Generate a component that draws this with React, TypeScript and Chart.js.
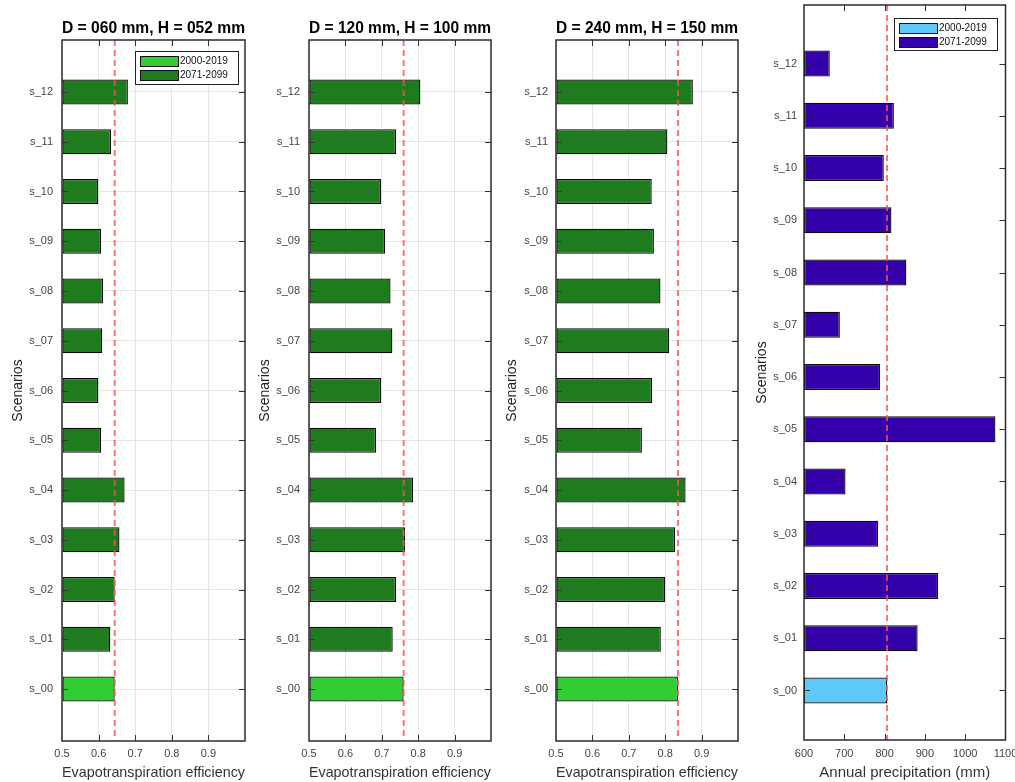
import React, { useEffect, useRef } from 'react';
import { Chart, registerables } from 'chart.js';

Chart.register(...registerables);
Chart.defaults.font.family = "'Liberation Sans', Arial, Helvetica, sans-serif";

// ---------- data ----------
const scenarios = ['s_00', 's_01', 's_02', 's_03', 's_04', 's_05', 's_06', 's_07', 's_08', 's_09', 's_10', 's_11', 's_12'];
const periodLabels = ['2000-2019', '2071-2099'];

const effD060 = [0.644, 0.632, 0.644, 0.657, 0.671, 0.607, 0.599, 0.610, 0.612, 0.607, 0.599, 0.634, 0.680];
const effD120 = [0.760, 0.730, 0.739, 0.764, 0.786, 0.684, 0.698, 0.729, 0.724, 0.709, 0.698, 0.739, 0.806];
const effD240 = [0.835, 0.788, 0.800, 0.827, 0.856, 0.736, 0.764, 0.811, 0.787, 0.769, 0.763, 0.806, 0.876];
const precipitation = [806, 882, 933, 784, 703, 1075, 789, 689, 854, 817, 798, 823, 664];

const effTicks = [0.5, 0.6, 0.7, 0.8, 0.9];
const precipTicks = [600, 700, 800, 900, 1000, 1100];

const panelTitles = ['D = 060 mm, H = 052 mm', 'D = 120 mm, H = 100 mm', 'D = 240 mm, H = 150 mm'];
const effAxisTitle = 'Evapotranspiration efficiency';
const precipAxisTitle = 'Annual precipitation (mm)';
const yAxisTitle = 'Scenarios';

const greenColors = ['#32cd32', '#1e7b1e'];
const blueColors = ['#5ec8fb', '#3300aa'];

// ---------- panel specs (layout / style only) ----------
type Spec = {
  left: number; width: number; title?: string; values: number[]; colors: string[];
  xMin: number; xMax: number; xTicks: number[]; xTitle: string; decimals: number;
  yMin: number; yMax: number; yWidth: number; padRight: number; padTop: number;
  xHeight: number; yTitlePad: number; tickPad: number; xTickPad: number; grid: boolean;
  legend?: { right: number; top: number; w: number; h: number };
};

const specs: Spec[] = [
  { left: 0, width: 250, title: panelTitles[0], values: effD060, colors: greenColors, xMin: 0.5, xMax: 1, xTicks: effTicks, xTitle: effAxisTitle, decimals: 1,
    yMin: -1.045, yMax: 13.045, yWidth: 62, padRight: 5, padTop: 0, xHeight: 41, yTitlePad: 9.5, tickPad: 9, xTickPad: 6.4, grid: true,
    legend: { right: 7, top: 11, w: 103, h: 33 } },
  { left: 250, width: 247, title: panelTitles[1], values: effD120, colors: greenColors, xMin: 0.5, xMax: 1, xTicks: effTicks, xTitle: effAxisTitle, decimals: 1,
    yMin: -1.045, yMax: 13.045, yWidth: 59, padRight: 6, padTop: 0, xHeight: 41, yTitlePad: 6.6, tickPad: 9, xTickPad: 6.4, grid: true },
  { left: 497, width: 246, title: panelTitles[2], values: effD240, colors: greenColors, xMin: 0.5, xMax: 1, xTicks: effTicks, xTitle: effAxisTitle, decimals: 1,
    yMin: -1.045, yMax: 13.045, yWidth: 59, padRight: 5, padTop: 0, xHeight: 41, yTitlePad: 6.6, tickPad: 8, xTickPad: 6.4, grid: true },
  { left: 745, width: 270, values: precipitation, colors: blueColors, xMin: 600, xMax: 1100, xTicks: precipTicks, xTitle: precipAxisTitle, decimals: 0,
    yMin: -0.948, yMax: 13.12, yWidth: 59, padRight: 9.5, padTop: 5, xHeight: 42, yTitlePad: 8.6, tickPad: 7, xTickPad: 7.4, grid: false,
    legend: { right: 8.5, top: 13, w: 103, h: 32 } },
];

function makeDecor(p: Spec) {
  return {
    id: 'decor',
    afterDatasetsDraw(chart: any) {
      const { ctx, chartArea: a, scales } = chart;
      const x = scales.x.getPixelForValue(p.values[0]);
      ctx.save();
      ctx.strokeStyle = 'rgba(255, 80, 80, 0.8)';
      ctx.lineWidth = 2;
      ctx.setLineDash([6, 4]);
      ctx.beginPath();
      ctx.moveTo(x, a.top);
      ctx.lineTo(x, a.bottom);
      ctx.stroke();
      ctx.restore();
    },
    afterDraw(chart: any) {
      const { ctx, chartArea: a, scales } = chart;
      const L = 6;
      ctx.save();
      ctx.strokeStyle = '#333';
      ctx.lineWidth = 1;
      ctx.beginPath();
      scales.x.ticks.forEach((t: any) => {
        const px = Math.round(scales.x.getPixelForValue(t.value)) + 0.5;
        if (px <= a.left + 2 || px >= a.right - 2) return;
        ctx.moveTo(px, a.bottom); ctx.lineTo(px, a.bottom - L);
        ctx.moveTo(px, a.top); ctx.lineTo(px, a.top + L);
      });
      scales.y.ticks.forEach((t: any) => {
        const py = Math.round(scales.y.getPixelForValue(t.value)) + 0.5;
        ctx.moveTo(a.left, py); ctx.lineTo(a.left + L, py);
        ctx.moveTo(a.right, py); ctx.lineTo(a.right - L, py);
      });
      ctx.stroke();
      ctx.strokeStyle = '#2b2b2b';
      ctx.lineWidth = 1.5;
      ctx.strokeRect(a.left, a.top, a.right - a.left, a.bottom - a.top);

      if (p.legend) {
        const lg = p.legend;
        const bx = a.right - lg.right - lg.w;
        const by = a.top + lg.top;
        ctx.fillStyle = '#fff';
        ctx.fillRect(bx, by, lg.w, lg.h);
        ctx.strokeStyle = '#222';
        ctx.lineWidth = 1;
        ctx.strokeRect(bx + 0.5, by + 0.5, lg.w, lg.h);
        ctx.font = "10px 'Liberation Sans', Arial, sans-serif";
        ctx.textBaseline = 'middle';
        ctx.textAlign = 'left';
        periodLabels.forEach((lab, i) => {
          const sy = by + 5 + i * 14;
          ctx.fillStyle = p.colors[i];
          ctx.fillRect(bx + 5, sy, 38, 10);
          ctx.strokeStyle = '#111';
          ctx.strokeRect(bx + 5.5, sy + 0.5, 38, 10);
          ctx.fillStyle = '#111';
          ctx.fillText(lab, bx + 45, sy + 5.5);
        });
      }
      ctx.restore();
    },
  };
}

function Panel({ spec }: { spec: Spec }) {
  const ref = useRef<HTMLCanvasElement>(null);
  useEffect(() => {
    const p = spec;
    const hist = [{ x: p.values[0], y: 0 }];
    const fut = p.values.slice(1).map((v, i) => ({ x: v, y: i + 1 }));
    const common = { base: p.xMin, barPercentage: 0.5, categoryPercentage: 1, grouped: false, borderWidth: 1.3, borderColor: '#0a0a0a', borderSkipped: false as const };
    const chart = new Chart(ref.current!, {
      type: 'bar',
      data: {
        datasets: [
          { label: periodLabels[0], data: hist, backgroundColor: p.colors[0], ...common },
          { label: periodLabels[1], data: fut, backgroundColor: p.colors[1], ...common },
        ],
      },
      options: {
        indexAxis: 'y',
        responsive: false,
        animation: false,
        layout: { padding: { left: 0, right: p.padRight, top: p.padTop, bottom: 0 } },
        plugins: {
          legend: { display: false },
          tooltip: { enabled: false },
          title: p.title
            ? { display: true, text: p.title, fullSize: false, color: '#000', font: { size: 16, weight: 'bold' }, padding: { top: 18.5, bottom: 2.3 } }
            : { display: false },
        },
        scales: {
          x: {
            type: 'linear',
            min: p.xMin,
            max: p.xMax,
            offset: false,
            afterBuildTicks: (s: any) => { s.ticks = p.xTicks.map((v) => ({ value: v })); },
            afterFit: (s: any) => { s.height = p.xHeight; s.paddingLeft = 0; s.paddingRight = 0; },
            ticks: { callback: (v: any) => Number(v).toFixed(p.decimals), color: '#444', font: { size: 11 }, padding: p.xTickPad, maxRotation: 0, autoSkip: false },
            grid: { display: p.grid, color: '#e4e4e4', lineWidth: 1, drawTicks: false, offset: false },
            border: { display: false },
            title: { display: true, text: p.xTitle, color: '#333', font: { size: 15 }, padding: { top: 0, bottom: 0 } },
          },
          y: {
            type: 'linear',
            min: p.yMin,
            max: p.yMax,
            bounds: 'data',
            offset: false,
            afterBuildTicks: (s: any) => { s.ticks = scenarios.map((_, i) => ({ value: i })); },
            afterFit: (s: any) => { s.width = p.yWidth; s.paddingTop = 0; s.paddingBottom = 0; },
            ticks: { callback: (v: any) => scenarios[v] ?? '', color: '#444', font: { size: 11 }, padding: p.tickPad, autoSkip: false },
            grid: { display: p.grid, color: '#e4e4e4', lineWidth: 1, drawTicks: false, offset: false },
            border: { display: false },
            title: { display: true, text: yAxisTitle, color: '#222', font: { size: 14 }, padding: { top: p.yTitlePad, bottom: 0 } },
          },
        },
      } as any,
      plugins: [makeDecor(p)],
    });
    return () => chart.destroy();
  }, [spec]);
  return (
    <canvas
      ref={ref}
      width={spec.width}
      height={782}
      style={{ position: 'absolute', left: spec.left, top: 0, width: spec.width, height: 782 }}
    />
  );
}

export default function App() {
  return (
    <div style={{ position: 'absolute', left: 0, top: 0, width: 1015, height: 782, background: '#fff', overflow: 'hidden' }}>
      {specs.map((s, i) => (
        <Panel key={i} spec={s} />
      ))}
    </div>
  );
}
